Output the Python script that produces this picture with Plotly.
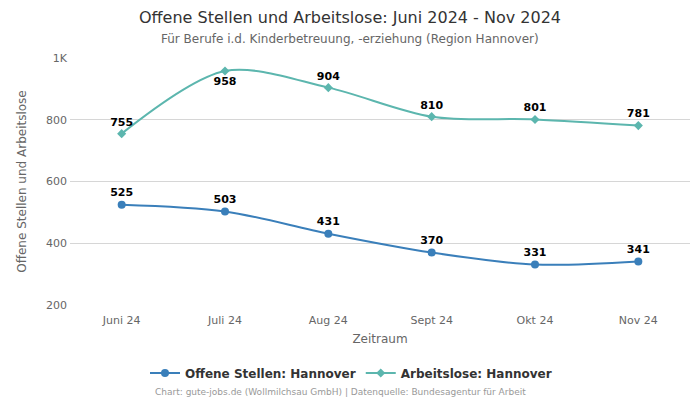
import plotly.graph_objects as go

months = ["Juni 24", "Juli 24", "Aug 24", "Sept 24", "Okt 24", "Nov 24"]
offene = [525, 503, 431, 370, 331, 341]
arbeitslose = [755, 958, 904, 810, 801, 781]
arb_pos = ["top center", "bottom center", "top center", "top center", "top center", "top center"]
y_ticks = [200, 400, 600, 800, 1000]
y_ticktext = ["200", "400", "600", "800", "1K"]

font = "DejaVu Sans, Verdana, sans-serif"
c_off = "#3a7fba"
c_arb = "#5cb6ae"

fig = go.Figure()
fig.add_trace(go.Scatter(
    x=months, y=offene, name="Offene Stellen: Hannover",
    mode="lines+markers+text", line=dict(color=c_off, width=2, shape="spline", smoothing=0.9),
    marker=dict(symbol="circle", size=8, color=c_off),
    text=[str(v) for v in offene], textposition="top center",
    textfont=dict(family=font, size=11, color="#000000", weight="bold"),
))
fig.add_trace(go.Scatter(
    x=months, y=arbeitslose, name="Arbeitslose: Hannover",
    mode="lines+markers+text", line=dict(color=c_arb, width=2, shape="spline", smoothing=0.9),
    marker=dict(symbol="diamond", size=7, color=c_arb),
    text=[str(v) for v in arbeitslose], textposition=arb_pos,
    textfont=dict(family=font, size=11, color="#000000", weight="bold"),
))

def px(xpix):
    return (xpix - 70) / 620

def py(ypix):
    return (305 - ypix) / 247

fig.update_layout(
    width=700, height=400,
    paper_bgcolor="white", plot_bgcolor="white",
    margin=dict(l=70, r=10, t=58, b=95),
    font=dict(family=font, color="#666666", size=11),
    xaxis=dict(
        title=dict(text="Zeitraum", font=dict(size=12, color="#666666"), standoff=8),
        range=[-0.5, 5.5], showgrid=False, showline=False, ticks="",
        ticklabelstandoff=7,
        tickfont=dict(size=11, color="#666666"),
    ),
    yaxis=dict(
        title=dict(text="Offene Stellen und Arbeitslose", font=dict(size=12, color="#666666"), standoff=16),
        range=[200, 1000], tickvals=y_ticks, ticktext=y_ticktext,
        showgrid=True, gridcolor="#d6d6d6", gridwidth=1, zeroline=False,
        ticklabelstandoff=2,
        tickfont=dict(size=11, color="#666666"),
    ),
    legend=dict(
        orientation="h", x=px(351), xanchor="center", y=py(373), yanchor="middle",
        font=dict(size=12, color="#333333", weight="bold"),
        itemwidth=30, tracegroupgap=0,
    ),
    showlegend=True,
)
fig.add_annotation(
    text="Offene Stellen und Arbeitslose: Juni 2024 - Nov 2024",
    xref="paper", yref="paper", x=px(350), y=py(17), xanchor="center", yanchor="middle",
    showarrow=False, font=dict(size=16, color="#333333"),
)
fig.add_annotation(
    text="Für Berufe i.d. Kinderbetreuung, -erziehung (Region Hannover)",
    xref="paper", yref="paper", x=px(350), y=py(39), xanchor="center", yanchor="middle",
    showarrow=False, font=dict(size=12, color="#666666"),
)
fig.add_annotation(
    text="Chart: gute-jobs.de (Wollmilchsau GmbH) | Datenquelle: Bundesagentur für Arbeit",
    xref="paper", yref="paper", x=px(340), y=py(392), xanchor="center", yanchor="middle",
    showarrow=False, font=dict(size=9, color="#999999"),
)

fig.write_html("out.html", config={"displayModeBar": False},
               post_script="document.body.style.margin='0';")
